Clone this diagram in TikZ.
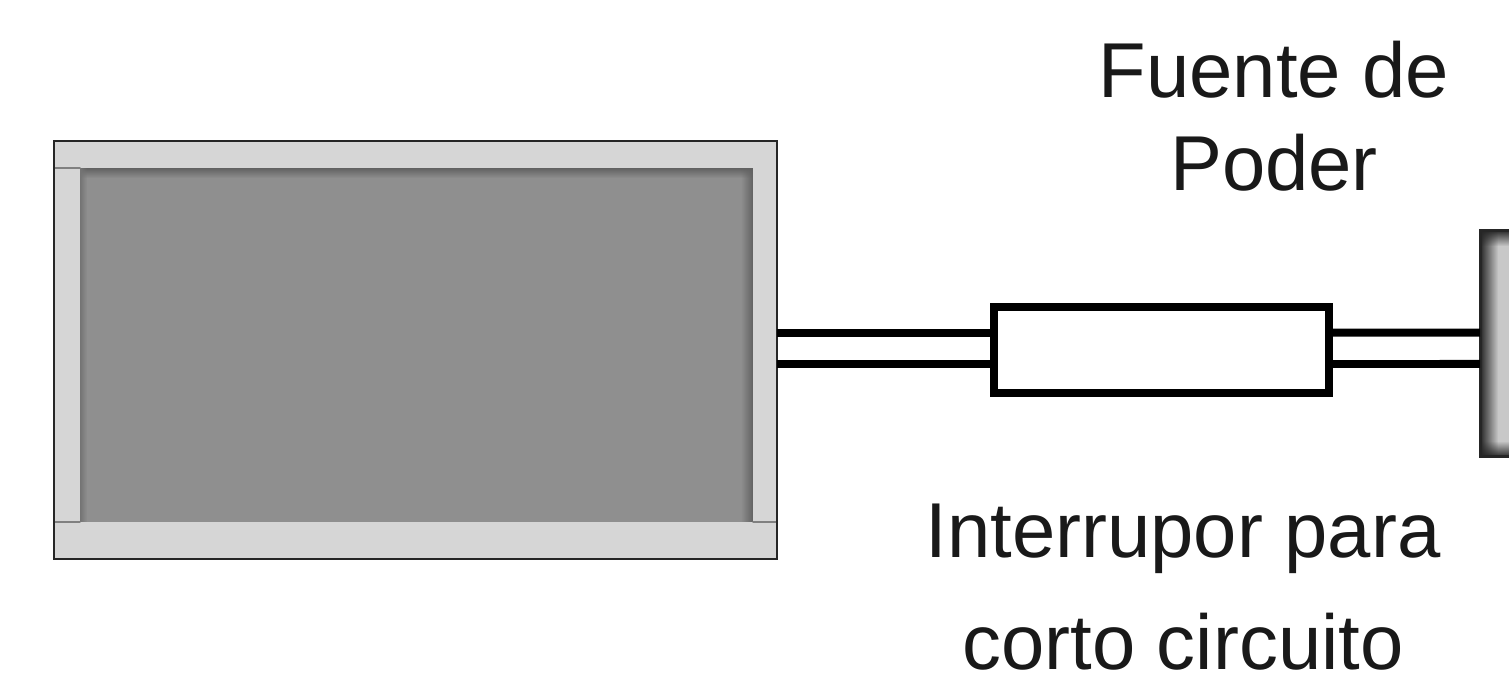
\documentclass[tikz,border=0pt]{standalone}
\usepackage{fontspec}
\setmainfont{Liberation Sans}
\usetikzlibrary{fadings}
\definecolor{framegray}{HTML}{D6D6D6}
\definecolor{screengray}{HTML}{8F8F8F}
\definecolor{edgegray}{HTML}{626262}
\definecolor{pluggray}{HTML}{C8C8C8}
\tikzset{
	box/.style={outer sep=0pt,inner sep=0pt,minimum width=#1},
	wire/.style={line width=0.16cm,line cap=butt},
	caption/.style={font=\fontsize{44.3}{52}\selectfont,align=center,text=black!90},
}

\begin{document}
\begin{tikzpicture}[line cap=round,line join=miter,x=0.02cm,y=-0.02cm]
			\useasboundingbox (0.,0.) rectangle (1509.,676.);
			\clip (0.,0.) rectangle (1509.,676.);
			% panel
			\node [box=14.46cm,minimum height=8.36cm,fill=framegray] (panel) at (415.5,350.) {};
			\node [box=13.46cm,minimum height=7.08cm,fill=screengray] (screen) at (416.5,345.) {};
			\fill [edgegray,path fading=south] (screen.north west) rectangle ([yshift=-0.2cm]screen.north east);
			\fill [edgegray,path fading=west] ([xshift=-0.24cm]screen.north east) rectangle (screen.south east);
			\fill [edgegray!60!screengray,path fading=east] (screen.north west) rectangle ([xshift=0.14cm]screen.south west);
			\draw [line width=0.03cm,black!50] (55.,168.)-- (80.,168.);
			\draw [line width=0.03cm,black!50] (55.,522.)-- (80.,522.);
			\draw [line width=0.03cm,black!50] (753.,522.)-- (776.,522.);
			\draw [line width=0.045cm,black!85] (panel.north west) rectangle (panel.south east);
			% plug
			\node [box=1.2cm,minimum height=4.54cm,fill=pluggray] (plug) at (1510.,343.5) {};
			\fill [black!85,path fading=east] (plug.north west) rectangle ([xshift=0.36cm]plug.south west);
			\fill [black!85,path fading=south] (plug.north west) rectangle ([yshift=-0.32cm]plug.north east);
			\fill [black!85,path fading=north] ([yshift=0.32cm]plug.south west) rectangle (plug.south east);
			\draw [line width=0.06cm,black!85] (plug.north east)-- (plug.north west)-- (plug.south west)-- (plug.south east);
			% switch and wires
			\node [box=6.72cm,minimum height=1.74cm,draw=black,line width=0.16cm,fill=white] (switch) at (1161.5,350.) {};
			\draw [wire] ([yshift=0.35cm]panel.east)-- ([yshift=0.35cm]switch.west);
			\draw [wire] ([yshift=-0.28cm]panel.east)-- ([yshift=-0.28cm]switch.west);
			\draw [wire] ([yshift=0.35cm]switch.east)-- ([yshift=0.216cm]plug.west);
			\draw [wire] ([yshift=-0.28cm]switch.east)-- ([yshift=-0.41cm]plug.west);
			% labels
			\node [caption] (source) at (1274.,116.) {Fuente de\\[1pt]Poder};
			\node [caption] (breaker) at (1183.,587.) {Interrupor para\\[12pt]corto circuito};
		\end{tikzpicture}
\end{document}
